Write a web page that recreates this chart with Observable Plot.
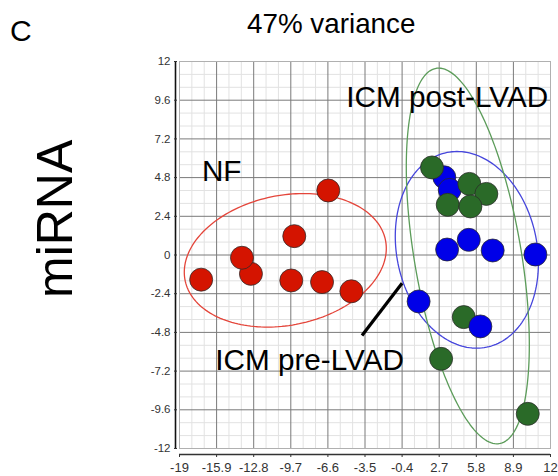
<!DOCTYPE html>
<html>
<head>
<meta charset="utf-8">
<script src="https://cdn.jsdelivr.net/npm/d3@7"></script>
<script src="https://cdn.jsdelivr.net/npm/@observablehq/plot@0.6"></script>
<style>
  html, body { margin: 0; padding: 0; background: #fff; }
  #wrap { position: relative; width: 558px; height: 476px; font-family: "Liberation Sans", Arial, sans-serif; }
  #wrap svg { position: absolute; left: 0; top: 0; }
  .lbl { position: absolute; white-space: nowrap; color: #000; line-height: 1; }
</style>
</head>
<body>
<div id="wrap">
  <div class="lbl" style="left:10px; top:16px; font-size:30px;">C</div>
  <div class="lbl" style="left:247px; top:10px; font-size:27.8px;">47% variance</div>
  <div class="lbl" style="left:30px; top:298px; font-size:50px; transform-origin: 0 0; transform: rotate(-90deg);">miRNA</div>
</div>
<script>
// ---- data ----
const groups = ["NF", "ICM pre-LVAD", "ICM post-LVAD"];

// NF (red)
const nfX = [-17.19, -13.03, -13.78, -9.41, -9.66, -7.09, -6.57, -4.64];
const nfY = [-1.53, -1.17, -0.17, 1.17, -1.58, -1.68, 4.00, -2.25];

// ICM pre-LVAD (blue)
const preX = [3.13, 3.58, 3.36, 5.17, 7.17, 10.74, 0.98, 6.14];
const preY = [4.82, 4.04, 0.34, 0.94, 0.28, 0.03, -2.88, -4.43];

// ICM post-LVAD (green)
const postX = [2.10, 5.22, 6.64, 3.41, 5.31, 4.75, 2.86, 10.10];
const postY = [5.43, 4.41, 3.79, 3.11, 3.01, -3.85, -6.44, -9.85];

// group ellipses: center, half-width, half-height, correlation
const ellCx  = [-10.16, 5.01, 5.09];
const ellCy  = [-0.33, 0.32, -0.06];
const ellRx  = [8.44, 5.98, 5.14];
const ellRy  = [4.14, 6.10, 11.65];
const ellRho = [0.178, -0.137, -0.473];

// axis ticks
const xTicks = [-19, -15.9, -12.8, -9.7, -6.6, -3.5, -0.4, 2.7, 5.8, 8.9, 12];
const yTicks = [-12, -9.6, -7.2, -4.8, -2.4, 0, 2.4, 4.8, 7.2, 9.6, 12];

// text annotations and pointer
const labelText = ["NF", "ICM pre-LVAD", "ICM post-LVAD"];
const labelX = [-17.13, -16.01, -5.06];
const labelY = [4.58, -7.16, 9.17];
const pointerX = [-3.75, -0.405];
const pointerY = [-4.99, -1.75];

// ---- build tables ----
const colors = {"NF": "#d41400", "ICM pre-LVAD": "#0000e8", "ICM post-LVAD": "#2a6a28"};
const ellColors = {"NF": "#e4453a", "ICM pre-LVAD": "#4646dc", "ICM post-LVAD": "#5c9c5a"};

const nf = nfX.map((x, i) => ({x, y: nfY[i], g: "NF"}));
const pre = preX.map((x, i) => ({x, y: preY[i], g: "ICM pre-LVAD"}));
const post = postX.map((x, i) => ({x, y: postY[i], g: "ICM post-LVAD"}));
// drawing order (overlaps): NF, pre (all but last), post, last pre
const points = [...nf, ...pre.slice(0, -1), ...post, pre[pre.length - 1]];

const ellipse = [];
groups.forEach((g, k) => {
  const n = 180;
  for (let i = 0; i <= n; i++) {
    const t = (2 * Math.PI * i) / n;
    const r = ellRho[k];
    ellipse.push({
      g,
      x: ellCx[k] + ellRx[k] * Math.cos(t),
      y: ellCy[k] + ellRy[k] * (r * Math.cos(t) + Math.sqrt(1 - r * r) * Math.sin(t))
    });
  }
});

// minor grid: thirds between major ticks
const minor = (ticks) => {
  const out = [];
  for (let i = 0; i < ticks.length - 1; i++) {
    const a = ticks[i], b = ticks[i + 1];
    out.push(a + (b - a) / 3, a + 2 * (b - a) / 3);
  }
  return out;
};
const xMinor = minor(xTicks), yMinor = minor(yTicks);

const labels = labelText.map((t, i) => ({t, x: labelX[i], y: labelY[i]}));
const pointer = [{x1: pointerX[0], y1: pointerY[0], x2: pointerX[1], y2: pointerY[1]}];

const fmt = d => String(d);

const chart = Plot.plot({
  width: 558,
  height: 476,
  marginLeft: 179,
  marginRight: 8,
  marginTop: 61,
  marginBottom: 28,
  style: {fontFamily: "'Liberation Sans', Arial, sans-serif", background: "#fff"},
  x: {domain: [-19, 12], axis: null},
  y: {domain: [-12, 12], axis: null},
  marks: [
    Plot.ruleX(xMinor, {stroke: "#e2e2e2", strokeWidth: 1}),
    Plot.ruleY(yMinor, {stroke: "#e2e2e2", strokeWidth: 1}),
    Plot.ruleX(xTicks, {stroke: "#7a7a7a", strokeWidth: 1}),
    Plot.ruleY(yTicks, {stroke: "#7a7a7a", strokeWidth: 1}),
    Plot.frame({stroke: "#b0b0b0"}),
    // y axis
    Plot.ruleX([-19], {y1: -12, y2: 12, dx: -4, stroke: "#111", strokeWidth: 1.6}),
    Plot.axisY(yTicks, {anchor: "left", tickSize: 3, dx: -2, tickPadding: 4, tickFormat: fmt, fontSize: 11.5, color: "#333"}),
    // x axis
    Plot.ruleY([-12], {x1: -19, x2: 12, dy: 6, stroke: "#333", strokeWidth: 1.6}),
    Plot.axisX(xTicks, {anchor: "bottom", tickSize: 3, dy: 6, tickPadding: 5, tickFormat: fmt, fontSize: 13, color: "#333"}),
    // ellipses
    Plot.line(ellipse, {x: "x", y: "y", z: "g", stroke: d => ellColors[d.g], strokeWidth: 1.3}),
    // points
    Plot.dot(points, {x: "x", y: "y", r: 11.5, fill: d => colors[d.g], stroke: "#2a2a2a", strokeOpacity: 0.75, strokeWidth: 1}),
    // pointer
    Plot.link(pointer, {x1: "x1", y1: "y1", x2: "x2", y2: "y2", stroke: "#000", strokeWidth: 3.2}),
    // labels
    Plot.text(labels, {x: "x", y: "y", text: "t", textAnchor: "start", lineAnchor: "bottom", fontSize: 29.7, fill: "#000"})
  ]
});
document.getElementById("wrap").prepend(chart);
</script>
</body>
</html>
